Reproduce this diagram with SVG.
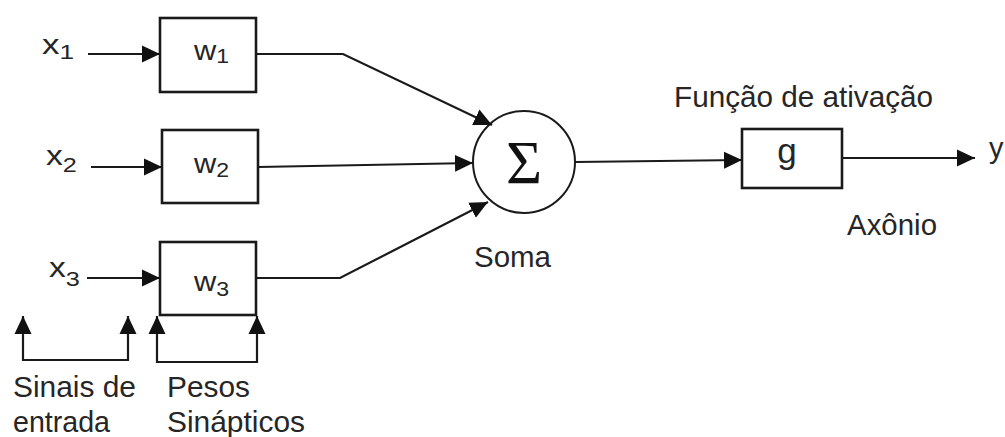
<svg xmlns="http://www.w3.org/2000/svg" width="1005" height="437" viewBox="0 0 1005 437">
  <style>
    .lbl { font-family: "Liberation Sans", Arial, sans-serif; fill: #262626; }
    .big { font-size: 29px; }
    .var { font-size: 28px; }
    .sub { font-size: 21px; }
    .box { fill: #ffffff; stroke: #1a1a1a; stroke-width: 2.6; }
    .wire { fill: none; stroke: #1a1a1a; stroke-width: 2.2; }
  </style>
  <defs>
    <marker id="arrow" markerUnits="userSpaceOnUse" markerWidth="20" markerHeight="20" refX="18" refY="10" orient="auto-start-reverse">
      <path d="M0,1.5 L18,10 L0,18.5 z" fill="#111"/>
    </marker>
  </defs>
  <rect width="1005" height="437" fill="#ffffff"/>

  <!-- inputs -->
  <g id="x1"><text class="lbl var" transform="translate(42,54) scale(1.25,1)">x<tspan class="sub" dy="5">1</tspan></text></g>
  <g id="x2"><text class="lbl var" transform="translate(46,165) scale(1.2,1)">x<tspan class="sub" dy="7">2</tspan></text></g>
  <g id="x3"><text class="lbl var" transform="translate(49,277) scale(1.2,1)">x<tspan class="sub" dy="9">3</tspan></text></g>

  <!-- synaptic weights -->
  <g id="w1">
    <rect class="box" x="160" y="18" width="96" height="74"/>
    <text class="lbl var" transform="translate(194,60) scale(1.1,1)">w<tspan class="sub" dy="3">1</tspan></text>
  </g>
  <g id="w2">
    <rect class="box" x="162" y="130" width="96" height="73"/>
    <text class="lbl var" transform="translate(194,173) scale(1.1,1)">w<tspan class="sub" dy="4">2</tspan></text>
  </g>
  <g id="w3">
    <rect class="box" x="160" y="242" width="96" height="73"/>
    <text class="lbl var" transform="translate(194,291) scale(1.1,1)">w<tspan class="sub" dy="5">3</tspan></text>
  </g>

  <!-- summation -->
  <g id="soma">
    <circle cx="524" cy="162" r="51" fill="#ffffff" stroke="#1a1a1a" stroke-width="2"/>
    <text x="524" y="183" text-anchor="middle" font-family="Liberation Serif, Times New Roman, serif" font-size="62" fill="#111">Σ</text>
    <text class="lbl big" x="474" y="267" textLength="77" lengthAdjust="spacingAndGlyphs">Soma</text>
  </g>

  <!-- activation -->
  <g id="ativacao">
    <rect class="box" x="742" y="129" width="100" height="59"/>
    <text class="lbl" x="787" y="163" text-anchor="middle" font-size="35">g</text>
    <text class="lbl big" x="674" y="107" textLength="259" lengthAdjust="spacingAndGlyphs">Função de ativação</text>
  </g>

  <g id="saida">
    <text class="lbl big" x="989" y="158">y</text>
    <text class="lbl big" x="847" y="235" textLength="90" lengthAdjust="spacingAndGlyphs">Axônio</text>
  </g>

  <!-- bottom captions -->
  <g id="sinais">
    <text class="lbl big" x="13" y="397" textLength="123" lengthAdjust="spacingAndGlyphs">Sinais de</text>
    <text class="lbl big" x="13" y="432" textLength="97" lengthAdjust="spacingAndGlyphs">entrada</text>
  </g>
  <g id="pesos">
    <text class="lbl big" x="167" y="397" textLength="83" lengthAdjust="spacingAndGlyphs">Pesos</text>
    <text class="lbl big" x="167" y="432" textLength="138" lengthAdjust="spacingAndGlyphs">Sinápticos</text>
  </g>

  <!-- connectors -->
  <g id="connectors">
    <line class="wire" x1="88" y1="54" x2="160" y2="54" marker-end="url(#arrow)"/>
    <line class="wire" x1="91" y1="167" x2="162" y2="167" marker-end="url(#arrow)"/>
    <line class="wire" x1="87" y1="278" x2="160" y2="278" marker-end="url(#arrow)"/>

    <polyline class="wire" points="256,54 343,54 492,125" marker-end="url(#arrow)"/>
    <line class="wire" x1="258" y1="167" x2="473" y2="163" marker-end="url(#arrow)"/>
    <polyline class="wire" points="256,278 340,278 488,202" marker-end="url(#arrow)"/>

    <line class="wire" x1="575" y1="162" x2="742" y2="160" marker-end="url(#arrow)"/>
    <line class="wire" x1="842" y1="158" x2="975" y2="158" marker-end="url(#arrow)"/>

    <polyline class="wire" points="23,316 23,360 128,360 128,316" marker-start="url(#arrow)" marker-end="url(#arrow)"/>
    <polyline class="wire" points="157,316 157,362 257,362 257,316" marker-start="url(#arrow)" marker-end="url(#arrow)"/>
  </g>
</svg>
